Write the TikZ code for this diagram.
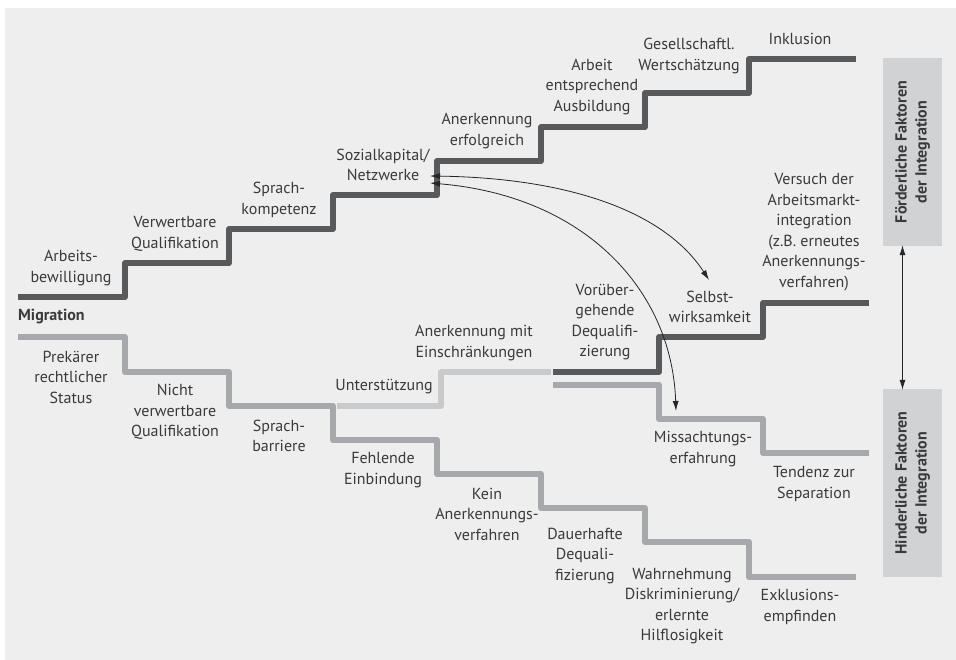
\documentclass[tikz,border=0pt]{standalone}
\usepackage{fontspec}
\setmainfont{PT Sans}
\usetikzlibrary{arrows.meta}
\definecolor{bgc}{HTML}{EEEEEE}
\definecolor{darkstep}{HTML}{58595B}
\definecolor{midstep}{HTML}{A7A8AB}
\definecolor{lightstep}{HTML}{C9CACC}
\definecolor{boxc}{HTML}{D1D2D4}
\definecolor{txt}{HTML}{3A3A3A}
\tikzset{
  stair/.style={line width=6pt, line join=round},
  lbl/.style={align=center, inner sep=0pt, text=txt, font=\fontsize{16}{20.5}\selectfont},
  sidebox/.style={fill=boxc, minimum width=59pt, minimum height=188pt, inner sep=0pt},
  sidetxt/.style={align=center, inner sep=0pt, text=txt, rotate=90, font=\bfseries\fontsize{16}{20}\selectfont},
  conn/.style={line width=0.8pt, black!85, {Latex[length=10pt,width=6pt]}-{Latex[length=10pt,width=6pt]}}
}
\begin{document}
\begin{tikzpicture}[x=1pt,y=-1pt]
\useasboundingbox (0,0) rectangle (956,660);
\fill[bgc] (5,8) rectangle (956,660);
% upper dark staircase
\draw[stair, darkstep] (18,297) -- (125,297) -- (125,263) -- (229,263) -- (229,229) -- (333,229) -- (333,195) -- (437,195) -- (437,161) -- (541,161) -- (541,127) -- (645,127) -- (645,93) -- (749,93) -- (749,59) -- (856,59);
% lower staircase
\draw[stair, midstep] (18,337) -- (125,337) -- (125,372) -- (229,372) -- (229,406) -- (333,406) -- (333,440) -- (437,440) -- (437,474) -- (541,474) -- (541,508) -- (645,508) -- (645,542) -- (749,542) -- (749,577) -- (856,577);
% middle branch
\draw[stair, lightstep] (337,406) -- (441,406) -- (441,372) -- (551,372);
\draw[stair, darkstep] (553,372) -- (659,372) -- (659,337) -- (763,337) -- (763,303) -- (869,303);
\draw[stair, midstep] (553,385) -- (659,385) -- (659,419) -- (763,419) -- (763,453) -- (869,453);
% side boxes
\node[sidebox] (fb) at (912.5,152) {};
\node[sidebox] (hb) at (912.5,483) {};
\node[sidetxt] (fbt) at (fb.center) {Förderliche Faktoren\\der Integration};
\node[sidetxt] (hbt) at (hb.center) {Hinderliche Faktoren\\der Integration};
\draw[conn] ([xshift=-10pt,yshift=1pt]fb.south) -- ([xshift=-10pt,yshift=-1pt]hb.north);
% arrows
\coordinate (s1) at (430,176);
\coordinate (s2) at (430,183);
\coordinate (e1) at (709,280);
\coordinate (e2) at (676,411);
\draw[conn] (s1) .. controls (570,178) and (665,212) .. (e1);
\draw[conn] (s2) .. controls (585,196) and (672,290) .. (e2);
% labels upper
\node[lbl] (u1) at (71,268) {Arbeits-\\bewilligung};
\node[lbl] (u2) at (175,234) {Verwertbare\\Qualifikation};
\node[lbl] (u3) at (279,200) {Sprach-\\kompetenz};
\node[lbl] (u4) at (383,165) {Sozialkapital/\\Netzwerke};
\node[lbl] (u5) at (487,131) {Anerkennung\\erfolgreich};
\node[lbl] (u6) at (592,87) {Arbeit\\entsprechend\\Ausbildung};
\node[lbl] (u7) at (689,56) {Gesellschaftl.\\Wertschätzung};
\node[lbl] (u8) at (800,39) {Inklusion};
\node[lbl] (m1) at (814,232) {Versuch der\\Arbeitsmarkt-\\integration\\(z.B. erneutes\\Anerkennungs-\\verfahren)};
\node[lbl] (m2) at (710,307) {Selbst-\\wirksamkeit};
\node[lbl] (m3) at (605,322) {Vorüber-\\gehende\\Dequalifi-\\zierung};
\node[lbl] (m4) at (474,343) {Anerkennung mit\\Einschränkungen};
\node[lbl] (m5) at (384,387) {Unterstützung};
\node[lbl, anchor=west, font=\bfseries\fontsize{16}{20}\selectfont] (mig) at (18,317) {Migration};
% labels lower
\node[lbl] (l1) at (71,377) {Prekärer\\rechtlicher\\Status};
\node[lbl] (l2) at (175,412) {Nicht\\verwertbare\\Qualifikation};
\node[lbl] (l3) at (279,436) {Sprach-\\barriere};
\node[lbl] (l4) at (383,470) {Fehlende\\Einbindung};
\node[lbl] (l5) at (487,514) {Kein\\Anerkennungs-\\verfahren};
\node[lbl] (l6) at (585,556) {Dauerhafte\\Dequali-\\fizierung};
\node[lbl] (l7) at (682,606) {Wahrnehmung\\Diskriminierung/\\erlernte\\Hilflosigkeit};
\node[lbl] (l8) at (800,607) {Exklusions-\\empfinden};
\node[lbl] (l9) at (703,449) {Missachtungs-\\erfahrung};
\node[lbl] (l10) at (814,484) {Tendenz zur\\Separation};
\end{tikzpicture}
\end{document}
